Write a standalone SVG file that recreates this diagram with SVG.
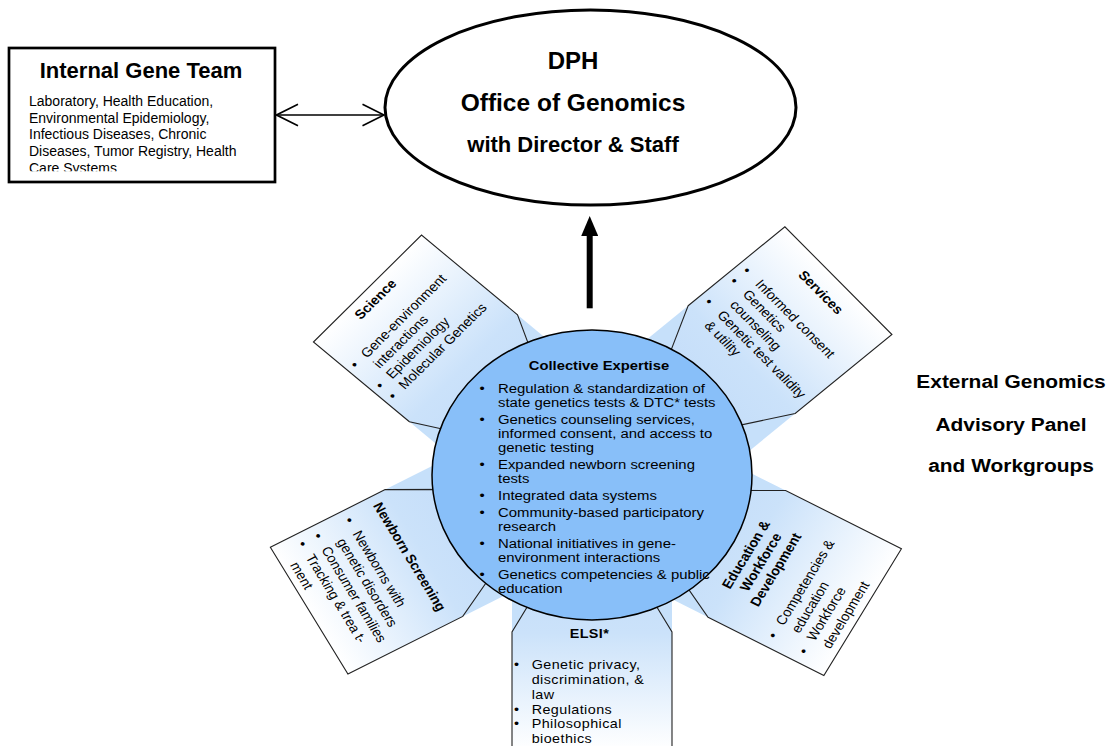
<svg xmlns="http://www.w3.org/2000/svg" width="1118" height="746" viewBox="0 0 1118 746">
<style>
text{font-family:"Liberation Sans",Arial,Helvetica,sans-serif;fill:#000}
.b{font-weight:bold}
.p{font-size:13px}
.c{font-size:13.5px}
.mid{text-anchor:middle}
.band{fill:#C6E0FA;stroke:none}
.petal{stroke:#222;stroke-width:1.1;vector-effect:non-scaling-stroke}
.conn{stroke:#000;fill:none}
</style>
<defs>
<linearGradient id="gOut" x1="0" y1="0" x2="0" y2="1">
<stop offset="0" stop-color="#C4DDF9"/><stop offset="0.34" stop-color="#CBE2FA"/><stop offset="1" stop-color="#FFFFFF"/>
</linearGradient>
<linearGradient id="gIn" x1="0" y1="1" x2="0" y2="0">
<stop offset="0" stop-color="#C4DDF9"/><stop offset="0.34" stop-color="#CBE2FA"/><stop offset="1" stop-color="#FFFFFF"/>
</linearGradient>
<marker id="open" markerUnits="userSpaceOnUse" viewBox="0 0 24 24" markerWidth="24" markerHeight="24" refX="22" refY="12" orient="auto-start-reverse">
<path d="M0.5,1.2 L22,12 L0.5,22.8" fill="none" stroke="#000" stroke-width="1.6"/>
</marker>
<marker id="solid" markerUnits="userSpaceOnUse" viewBox="0 0 20 17" markerWidth="20" markerHeight="17" refX="1" refY="8.5" orient="auto">
<path d="M0,0 L20,8.5 L0,17 Z" fill="#000"/>
</marker>
<clipPath id="clipBody"><rect x="12" y="85" width="260" height="86.3"/></clipPath>
</defs>
<rect width="1118" height="746" fill="#fff"/>

<g id="connectors">
<line class="conn" x1="276.5" y1="115" x2="384" y2="115" stroke-width="1.5" marker-start="url(#open)" marker-end="url(#open)"/>
<line class="conn" x1="589.7" y1="308.3" x2="589.7" y2="235" stroke-width="6" marker-end="url(#solid)"/>
</g>

<g id="node-internal-gene-team">
<rect x="9" y="48" width="266" height="134" fill="#fff" stroke="#000" stroke-width="2.7"/>
<text class="b mid" x="141" y="78.3" font-size="22">Internal Gene Team</text>
<g clip-path="url(#clipBody)" font-size="14">
<text x="29" y="106">Laboratory, Health Education,</text>
<text x="29" y="122.7">Environmental Epidemiology,</text>
<text x="29" y="139.3">Infectious Diseases, Chronic</text>
<text x="29" y="156">Diseases, Tumor Registry, Health</text>
<text x="29" y="172.7">Care Systems</text>
</g>
</g>

<g id="node-office-of-genomics">
<ellipse cx="590.5" cy="107.5" rx="205.5" ry="97.5" fill="#fff" stroke="#000" stroke-width="3"/>
<text class="b mid" x="573" y="69" font-size="24">DPH</text>
<text class="b mid" x="573" y="111" font-size="24.5">Office of Genomics</text>
<text class="b mid" x="573" y="152" font-size="22">with Director &amp; Staff</text>
</g>

<g id="node-external-panel" transform="translate(1011,0) scale(1.1,1)">
<text class="b mid" x="0" y="388.3" font-size="19">External Genomics</text>
<text class="b mid" x="0" y="431" font-size="19">Advisory Panel</text>
<text class="b mid" x="0" y="472" font-size="19">and Workgroups</text>
</g>

<g id="radial" transform="translate(592,475) scale(1.1034,1)">
<g id="node-science" transform="rotate(-47.5)">
<rect class="band" x="-72.5" y="-158" width="145" height="158"/>
<path class="petal" fill="url(#gIn)" d="M-72.5,-158 L-72.5,-276 L72.5,-276 L72.5,-158 L39.5,-98 L-39.5,-98 Z"/>
<text class="p b mid" x="-3" y="-259">Science</text>
<g class="p">
<text x="-66.3" y="-229">•</text>
<text x="-66.3" y="-198">•</text>
<text x="-66.3" y="-182.5">•</text>
<text x="-52" y="-229">Gene-environment</text>
<text x="-52" y="-213.5">interactions</text>
<text x="-52" y="-198">Epidemiology</text>
<text x="-52" y="-182.5">Molecular Genetics</text>
</g>
</g>

<g id="node-services" transform="rotate(48)">
<rect class="band" x="-67.5" y="-178" width="145" height="178"/>
<path class="petal" fill="url(#gIn)" d="M-67.5,-178 L-67.5,-296 L77.5,-296 L77.5,-178 L44.5,-118 L-34.5,-118 Z"/>
<text class="p b mid" x="3" y="-272">Services</text>
<g class="p">
<text x="-60.3" y="-237">•</text>
<text x="-60.3" y="-221.5">•</text>
<text x="-60.3" y="-190.5">•</text>
<text x="-43" y="-237">Informed consent</text>
<text x="-43" y="-221.5">Genetics</text>
<text x="-43" y="-206">counseling</text>
<text x="-43" y="-190.5">Genetic test validity</text>
<text x="-43" y="-175">&amp; utility</text>
</g>
</g>

<g id="node-newborn-screening" transform="rotate(61)">
<rect class="band" x="-78.1" y="0" width="145" height="171"/>
<path class="petal" fill="url(#gOut)" d="M-78.1,171 L-78.1,290 L66.9,290 L66.9,171 L33.9,111 L-45.1,111 Z"/>
<text class="p b mid" x="-8.6" y="188.5">Newborn Screening</text>
<g class="p">
<text x="-69.3" y="218.5">•</text>
<text x="-69.3" y="250.9">•</text>
<text x="-69.3" y="267.1">•</text>
<text x="-54" y="218.5">Newborns with</text>
<text x="-54" y="234.7">genetic disorders</text>
<text x="-54" y="250.9">Consumer families</text>
<text x="-54" y="267.1">Tracking &amp; trea t-</text>
<text x="-54" y="283.3">ment</text>
</g>
</g>

<g id="node-education" transform="rotate(-61)">
<rect class="band" x="-73.5" y="0" width="145" height="161"/>
<path class="petal" fill="url(#gOut)" d="M-73.5,161 L-73.5,281 L71.5,281 L71.5,161 L38.5,101 L-40.5,101 Z"/>
<text class="p b mid" x="-2" y="165">Education &amp;</text>
<text class="p b mid" x="-2" y="180.5">Workforce</text>
<text class="p b mid" x="-2" y="196">Development</text>
<g class="p">
<text x="-63.3" y="225.4">•</text>
<text x="-63.3" y="257.4">•</text>
<text x="-48" y="225.4">Competencies &amp;</text>
<text x="-48" y="241.4">education</text>
<text x="-48" y="257.4">Workforce</text>
<text x="-48" y="273.4">development</text>
</g>
</g>

<g id="node-elsi">
<rect class="band" x="-72.5" y="0" width="145" height="157"/>
<path class="petal" fill="url(#gOut)" d="M-72.5,157 L-72.5,275 L72.5,275 L72.5,157 L39.5,97 L-39.5,97 Z"/>
<text class="p b mid" x="-2.3" y="163.5" letter-spacing="0.4">ELSI*</text>
<g class="p" letter-spacing="0.4">
<text x="-70.6" y="194.3">•</text>
<text x="-70.6" y="238.7">•</text>
<text x="-70.6" y="253.5">•</text>
<text x="-54.7" y="194.3">Genetic privacy,</text>
<text x="-54.7" y="209.1">discrimination, &amp;</text>
<text x="-54.7" y="223.9">law</text>
<text x="-54.7" y="238.7">Regulations</text>
<text x="-54.7" y="253.5">Philosophical</text>
<text x="-54.7" y="268.3">bioethics</text>
</g>
</g>

<g id="node-collective-expertise">
<circle r="145" fill="#88BFF9" stroke="#000" stroke-width="1.5" vector-effect="non-scaling-stroke"/>
<text class="b mid" x="6.3" y="-105" font-size="13.4">Collective Expertise</text>
<g class="c">
<text x="-102" y="-82.3">•</text>
<text x="-102" y="-51.3">•</text>
<text x="-102" y="-6.1">•</text>
<text x="-102" y="24.9">•</text>
<text x="-102" y="41.7">•</text>
<text x="-102" y="72.7">•</text>
<text x="-102" y="103.7">•</text>
<text x="-85.2" y="-82.3">Regulation &amp; standardization of</text>
<text x="-85.2" y="-68.1">state genetics tests &amp; DTC* tests</text>
<text x="-85.2" y="-51.3">Genetics counseling services,</text>
<text x="-85.2" y="-37.1">informed consent, and access to</text>
<text x="-85.2" y="-22.9">genetic testing</text>
<text x="-85.2" y="-6.1">Expanded newborn screening</text>
<text x="-85.2" y="8.1">tests</text>
<text x="-85.2" y="24.9">Integrated data systems</text>
<text x="-85.2" y="41.7">Community-based participatory</text>
<text x="-85.2" y="55.9">research</text>
<text x="-85.2" y="72.7">National initiatives in gene-</text>
<text x="-85.2" y="86.9">environment interactions</text>
<text x="-85.2" y="103.7">Genetics competencies &amp; public</text>
<text x="-85.2" y="117.9">education</text>
</g>
</g>
</g>
</svg>
